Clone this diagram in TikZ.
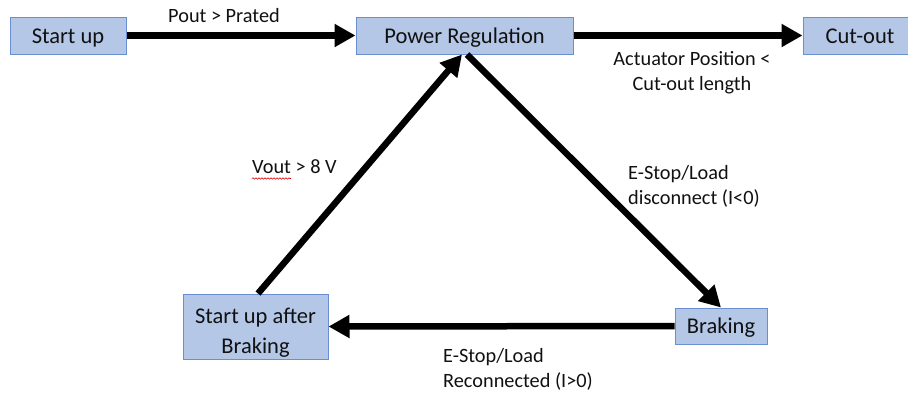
\documentclass[tikz,border=0pt]{standalone}
\usepackage{fontspec}
\setmainfont{Carlito}
\usetikzlibrary{arrows.meta,decorations.pathmorphing}
\definecolor{boxfill}{HTML}{B4C7E7}
\definecolor{boxdraw}{HTML}{6A8FD0}
\definecolor{txt}{HTML}{111111}
\begin{document}
\begin{tikzpicture}[x=1pt,y=-1pt,
  state/.style={draw=boxdraw,fill=boxfill,line width=1pt,inner sep=0pt,align=center,
    font=\fontsize{22.5}{30}\selectfont,text=txt,text height=15pt,text depth=0pt},
  boxtext/.style={inner sep=0pt,align=center,font=\fontsize{22.5}{30}\selectfont,text=txt},
  flow/.style={line width=6.5pt,-{Triangle[length=21pt,width=22pt]}},
  lbl/.style={inner sep=0pt,text=txt,font=\fontsize{20.3}{25}\selectfont}]
\path[use as bounding box] (0,0) rectangle (908,400);
\begin{scope}
\clip (0,0) rectangle (908,400);
\node[state,minimum width=116pt,minimum height=37pt] (su) at (68,35.5) {Start up};
\node[state,minimum width=217pt,minimum height=37pt] (pr) at (464.5,35.5) {Power Regulation};
\node[state,minimum width=114pt,minimum height=37pt] (co) at (860,35.5) {Cut-out};
\node[state,minimum width=145pt,minimum height=65pt] (sab) at (255.5,326.5) {};
\node[boxtext] (sabt) at (255.5,332.5) {Start up after\\Braking};
\node[state,minimum width=92pt,minimum height=36pt] (brk) at (721,326) {Braking};
\end{scope}

\draw[flow] (su.east) -- (pr.west);
\draw[flow] (pr.east) -- (co.west);
\draw[flow] ([xshift=2.5pt]sab.north) -- ([xshift=-2.5pt]pr.south);
\draw[flow] ([xshift=2.5pt]pr.south) -- (brk.north);
\draw[flow] (brk.west) -- (sab.east);

\node[lbl] (l1) at (224,16) {Pout > Prated};
\node[lbl,align=center] (l2) at (692,72.5) {Actuator Position <\\Cut-out length};
\node[lbl,anchor=west] (l3) at (252,167) {Vout > 8 V};
\node[lbl,anchor=west,align=left] (l4) at (628,186.5) {E-Stop/Load\\disconnect (I<0)};
\node[lbl,anchor=west,align=left] (l5) at (443,369.5) {E-Stop/Load\\Reconnected (I>0)};
\coordinate (sq1) at (252,178.5);
\coordinate (sq2) at (291,178.5);
\draw[red!85!black,line width=0.6pt,decorate,decoration={snake,amplitude=0.7pt,segment length=3pt}] (sq1) -- (sq2);
\end{tikzpicture}
\end{document}
